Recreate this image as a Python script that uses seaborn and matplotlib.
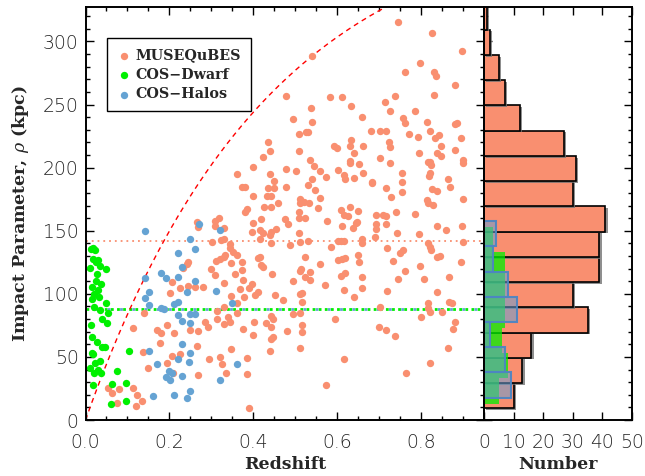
import numpy as np
import pandas as pd
import matplotlib
matplotlib.use("Agg")
import matplotlib.pyplot as plt
import matplotlib.patheffects as pe
from matplotlib.ticker import MultipleLocator, FormatStrFormatter
import seaborn as sns

# ---------------------------------------------------------------------------
# Galaxy samples: (redshift, impact parameter in kpc)
# ---------------------------------------------------------------------------
muse_points = [
    (0.746, 315.7), (0.826, 306.5), (0.898, 292.5), (0.539, 288.8), (0.798, 282.7),
    (0.761, 275.6), (0.831, 276.1), (0.836, 272.7), (0.882, 265.5), (0.830, 257.9),
    (0.477, 257.1), (0.737, 257.1), (0.582, 256.3), (0.611, 256.3), (0.715, 251.8),
    (0.632, 248.5), (0.538, 247.0), (0.727, 245.2), (0.785, 245.2), (0.659, 240.4),
    (0.756, 239.1), (0.495, 238.6), (0.539, 236.2), (0.814, 236.2), (0.762, 235.1),
    (0.880, 234.6), (0.886, 235.6), (0.681, 229.0), (0.701, 229.0), (0.717, 229.0),
    (0.821, 229.0), (0.525, 228.5), (0.531, 228.5), (0.508, 227.0), (0.771, 227.0),
    (0.843, 226.2), (0.793, 224.3), (0.833, 223.8), (0.894, 223.3), (0.633, 221.7),
    (0.435, 220.1), (0.723, 220.1), (0.593, 217.4), (0.631, 217.4), (0.662, 217.4),
    (0.847, 216.9), (0.725, 216.4), (0.600, 215.3), (0.882, 213.7), (0.439, 213.5),
    (0.509, 213.0), (0.639, 211.6), (0.795, 211.6), (0.837, 211.6), (0.848, 209.0),
    (0.423, 208.5), (0.703, 207.4), (0.899, 206.1), (0.535, 205.8), (0.630, 205.3),
    (0.816, 204.8), (0.821, 204.8), (0.900, 204.0), (0.725, 203.7), (0.631, 203.4),
    (0.651, 202.7), (0.824, 202.1), (0.545, 201.6), (0.399, 200.8), (0.478, 198.7),
    (0.601, 197.9), (0.559, 197.6), (0.501, 197.1), (0.754, 195.8), (0.662, 195.5),
    (0.821, 195.5), (0.439, 195.3), (0.361, 194.7), (0.616, 194.5), (0.820, 193.7),
    (0.574, 192.6), (0.640, 192.1), (0.865, 191.3), (0.539, 190.8), (0.618, 190.8),
    (0.754, 189.0), (0.450, 189.2), (0.683, 188.4),
    (0.309, 158.0), (0.309, 153.7), (0.329, 152.4), (0.301, 141.3), (0.323, 142.6),
    (0.329, 143.2), (0.344, 139.5), (0.344, 136.0), (0.310, 126.0), (0.320, 127.6),
    (0.330, 129.4), (0.333, 130.8), (0.346, 124.7), (0.309, 114.9), (0.329, 108.3),
    (0.281, 105.7), (0.346, 98.3), (0.313, 86.4), (0.329, 89.5), (0.314, 79.8),
    (0.340, 81.9), (0.344, 77.9), (0.329, 76.1), (0.285, 77.4), (0.292, 73.9),
    (0.295, 48.3), (0.320, 49.6), (0.326, 44.4), (0.346, 56.3), (0.334, 37.0),
    (0.372, 184.4), (0.380, 184.4), (0.399, 177.8), (0.384, 167.0), (0.381, 164.6),
    (0.399, 156.4), (0.419, 159.0), (0.396, 149.2), (0.415, 150.6), (0.423, 148.5),
    (0.415, 143.2), (0.441, 140.0), (0.362, 130.8), (0.374, 125.5), (0.417, 128.9),
    (0.419, 122.8), (0.423, 121.0), (0.411, 128.1), (0.356, 115.4), (0.372, 118.9),
    (0.376, 110.9), (0.368, 103.5), (0.397, 107.8), (0.390, 104.9), (0.411, 101.7),
    (0.403, 99.1), (0.378, 97.2), (0.362, 92.4), (0.402, 77.7), (0.376, 71.8),
    (0.399, 67.3), (0.384, 49.0), (0.385, 36.2), (0.390, 9.3),
    (0.435, 183.6), (0.449, 183.6), (0.433, 177.5), (0.441, 177.5), (0.425, 169.0),
    (0.443, 169.0), (0.458, 172.2), (0.479, 184.4), (0.476, 159.0), (0.483, 155.1),
    (0.442, 148.7), (0.439, 146.6), (0.487, 138.7), (0.445, 115.7), (0.451, 99.1),
    (0.443, 82.4), (0.446, 79.8), (0.431, 77.1), (0.442, 73.9), (0.447, 66.0),
    (0.443, 63.9), (0.439, 54.9), (0.495, 110.4), (0.511, 141.3), (0.508, 147.9),
    (0.495, 84.0), (0.531, 186.2), (0.548, 182.3), (0.558, 175.7), (0.511, 174.9),
    (0.511, 172.2), (0.520, 172.5), (0.532, 171.7), (0.554, 168.0), (0.510, 164.8),
    (0.508, 159.8), (0.523, 159.8), (0.531, 142.1), (0.523, 129.4), (0.513, 119.4),
    (0.511, 118.3), (0.536, 117.5), (0.523, 113.1), (0.535, 110.9), (0.511, 99.9),
    (0.515, 100.4), (0.516, 93.8), (0.511, 84.5), (0.516, 75.3), (0.515, 69.5),
    (0.511, 56.8), (0.573, 27.7), (0.571, 106.7),
    (0.610, 166.4), (0.616, 162.5), (0.626, 161.7), (0.630, 169.1), (0.650, 165.6),
    (0.646, 156.4), (0.648, 157.2), (0.638, 152.4), (0.612, 153.7), (0.602, 142.1),
    (0.610, 142.1), (0.616, 142.1), (0.602, 126.8), (0.612, 127.8), (0.618, 128.6),
    (0.650, 130.8), (0.652, 125.5), (0.610, 114.1), (0.618, 116.8), (0.659, 113.6),
    (0.639, 97.7), (0.616, 103.0), (0.616, 48.1), (0.660, 143.2), (0.660, 140.0),
    (0.693, 162.5), (0.708, 162.5), (0.717, 161.7), (0.692, 155.3), (0.692, 151.1),
    (0.717, 155.6), (0.739, 164.6), (0.717, 183.6), (0.729, 177.0), (0.719, 136.3),
    (0.732, 126.3), (0.701, 89.8), (0.718, 102.2), (0.717, 71.6), (0.738, 66.3),
    (0.682, 188.1), (0.755, 181.0), (0.743, 148.5), (0.758, 134.7), (0.750, 132.6),
    (0.761, 118.1), (0.796, 147.4), (0.797, 122.0), (0.806, 111.5), (0.815, 174.3),
    (0.817, 171.7), (0.828, 170.4), (0.817, 140.5), (0.821, 137.4), (0.823, 134.7),
    (0.838, 129.4), (0.837, 154.0), (0.799, 81.9), (0.817, 92.9), (0.817, 88.5),
    (0.821, 85.8), (0.821, 45.4), (0.763, 37.5), (0.826, 182.8), (0.837, 181.7),
    (0.870, 184.4), (0.899, 174.9), (0.897, 154.0), (0.896, 125.2), (0.866, 113.1),
    (0.837, 101.4), (0.866, 93.8), (0.873, 92.4), (0.880, 77.9), (0.875, 71.8),
    (0.864, 56.8), (0.844, 130.0),
    (0.265, 157.2), (0.269, 152.7), (0.245, 125.5), (0.241, 123.7), (0.233, 120.2),
    (0.205, 109.7), (0.225, 104.4), (0.201, 100.4), (0.245, 106.2), (0.261, 105.2),
    (0.112, 73.2), (0.139, 84.6), (0.171, 71.4), (0.181, 68.7), (0.195, 75.3),
    (0.211, 68.7), (0.177, 61.3), (0.249, 71.4), (0.269, 70.8), (0.266, 58.9),
    (0.136, 53.9), (0.205, 50.8), (0.225, 52.3), (0.150, 41.2), (0.195, 45.5),
    (0.209, 37.0), (0.269, 35.7), (0.053, 25.1), (0.062, 21.2), (0.080, 24.3),
    (0.112, 25.1), (0.122, 19.8), (0.134, 15.1), (0.074, 13.2), (0.120, 11.1),
    (0.318, 160.5), (0.455, 151.0), (0.575, 158.0), (0.785, 163.0), (0.860, 150.5),
    (0.352, 133.0), (0.585, 137.0), (0.690, 145.0), (0.900, 141.0),
    (0.300, 120.0), (0.560, 124.0), (0.745, 112.0),
    (0.470, 95.0), (0.660, 105.0),
    (0.360, 85.0), (0.480, 70.5), (0.595, 80.0), (0.700, 74.0), (0.850, 86.0),
]

dwarf_points = [
    (0.013, 135.3), (0.023, 134.7), (0.029, 126.8), (0.024, 125.2), (0.011, 120.2),
    (0.048, 119.7), (0.027, 115.7), (0.015, 105.2), (0.029, 103.0), (0.015, 95.7),
    (0.033, 97.7), (0.050, 92.5), (0.020, 89.8), (0.035, 87.2), (0.054, 84.6),
    (0.052, 77.1), (0.015, 66.0), (0.040, 58.1), (0.046, 58.1), (0.015, 53.3),
    (0.019, 52.3), (0.035, 47.0), (0.104, 54.9), (0.011, 41.0), (0.020, 37.0),
    (0.036, 37.0), (0.074, 38.8), (0.062, 28.3), (0.096, 29.1), (0.060, 13.0),
    (0.096, 14.8), (0.018, 28.0), (0.022, 45.0), (0.030, 40.0), (0.028, 62.0),
    (0.040, 80.0), (0.012, 75.0), (0.020, 100.0), (0.038, 108.0), (0.025, 110.0),
    (0.035, 122.0), (0.018, 128.0), (0.018, 136.0),
]

halos_points = [
    (0.141, 149.8), (0.270, 155.0), (0.250, 143.5), (0.261, 135.6), (0.220, 132.6),
    (0.142, 112.8), (0.180, 116.8), (0.191, 112.3), (0.220, 113.6), (0.231, 121.6),
    (0.261, 110.5), (0.151, 101.7), (0.142, 96.5), (0.151, 91.2), (0.180, 88.5),
    (0.188, 88.0), (0.212, 92.0), (0.221, 93.8), (0.241, 101.7), (0.220, 83.3),
    (0.231, 78.8), (0.250, 83.8), (0.261, 83.8), (0.250, 77.2), (0.231, 60.3),
    (0.250, 52.9), (0.246, 45.7), (0.151, 55.0), (0.171, 44.1), (0.199, 38.9),
    (0.191, 34.4), (0.205, 37.5), (0.201, 31.7), (0.231, 35.2), (0.162, 19.1),
    (0.211, 19.8), (0.250, 23.0), (0.241, 17.7), (0.320, 150.6), (0.310, 102.5),
    (0.350, 92.4), (0.360, 44.1), (0.320, 32.0), (0.220, 48.0),
]

# Impact-parameter histograms (20 kpc bins, counted upward from each start value)
bin_width = 20.0
muse_bin_start = 9.3
muse_counts = [10, 13, 16, 35, 30, 39, 39, 41, 30, 31, 27, 12, 7, 5, 2, 1]
dwarf_bin_start = 13.0
dwarf_counts = [5, 8, 6, 7, 7, 7, 3]
halos_bin_start = 17.7
halos_counts = [9, 7, 2, 11, 8, 3, 4]

# Reference levels (kpc) of each sample
rho_level_muse = 141.5
rho_level_dwarf = 88.2
rho_level_halos = 88.2

# Field-of-view limit: fixed angular radius projected with flat LCDM
fov_arcsec = 45.4
H0, Om = 70.0, 0.3

labels = ["MUSEQuBES", "COS\u2212Dwarf", "COS\u2212Halos"]
c_muse = "#F98F70"
c_dwarf = "#00F000"
c_halos = "#65A3D3"

# ---------------------------------------------------------------------------
sns.set_theme(style="ticks")
plt.rcParams["font.family"] = ["DejaVu Sans"]
plt.rcParams["font.weight"] = "light"
plt.rcParams["mathtext.fontset"] = "dejavuserif"
plt.rcParams["axes.linewidth"] = 1.4
plt.rcParams["axes.edgecolor"] = "black"

fig = plt.figure(figsize=(6.45, 4.76), dpi=100)
ax = fig.add_axes([0.1326, 0.1176, 0.6178, 0.8676])
axh = fig.add_axes([0.7504, 0.1176, 0.2295, 0.8676])

ylim = (0, 327.3)


def to_frame(points):
    return pd.DataFrame(points, columns=["z", "rho"])


df_m = to_frame(muse_points)
df_d = to_frame(dwarf_points)
df_h = to_frame(halos_points)

# reference levels
ax.axhline(rho_level_muse, color=c_muse, lw=1.3, ls=(0, (1.0, 2.2)), zorder=1)
ax.axhline(rho_level_dwarf, color=c_dwarf, lw=2.0, ls=(0, (1.0, 1.2)), zorder=1)
ax.axhline(rho_level_halos, color=c_halos, lw=2.0, ls=(1.1, (1.0, 3.4)), zorder=1.1)

# angular-size curve
zg = np.linspace(0.0, 0.95, 2001)
Ez = np.sqrt(Om * (1 + zg) ** 3 + 1 - Om)
dc = np.concatenate([[0.0], np.cumsum(0.5 * (1 / Ez[1:] + 1 / Ez[:-1]) * np.diff(zg))])
dc *= 299792.458 / H0
da_kpc = dc / (1 + zg) * 1000.0
rho_fov = da_kpc * fov_arcsec / 206264.806
ax.plot(zg, rho_fov, color="red", lw=1.0, dashes=(3.6, 3.0), zorder=1.2)

kw = dict(x="z", y="rho", s=28, linewidth=0, ax=ax, zorder=3)
sns.scatterplot(data=df_m, color=c_muse, label=labels[0], **kw)
sns.scatterplot(data=df_d, color=c_dwarf, label=labels[1], **kw)
sns.scatterplot(data=df_h, color=c_halos, label=labels[2], **kw)

ax.set_xlim(0, 0.95)
ax.set_ylim(*ylim)
ax.xaxis.set_major_locator(MultipleLocator(0.2))
ax.xaxis.set_minor_locator(MultipleLocator(0.05))
ax.yaxis.set_major_locator(MultipleLocator(50))
ax.yaxis.set_minor_locator(MultipleLocator(10))
ax.xaxis.set_major_formatter(FormatStrFormatter("%.1f"))

serif_bold = dict(family="DejaVu Serif", weight="bold", size=12.5)
ax.set_xlabel("Redshift", fontdict=serif_bold)
ax.set_ylabel("Impact Parameter, $\\rho$ (kpc)", fontdict=serif_bold)
ax.xaxis.set_label_coords(0.5, -0.087)
ax.yaxis.set_label_coords(-0.137, 0.5)

leg = ax.legend(loc="upper left", bbox_to_anchor=(0.053, 0.924), borderaxespad=0,
                frameon=True, fancybox=False, edgecolor="black", framealpha=1,
                prop=dict(family="DejaVu Serif", weight="bold", size=10.3),
                handletextpad=0.3, labelspacing=0.38, borderpad=0.7,
                handlelength=1.0, markerscale=1.0)
leg.get_frame().set_linewidth(1.0)
leg.set_zorder(5)


# ---------------------------------------------------------------------------
# side histograms
def draw_hist(start, counts, **style):
    counts = np.asarray(counts, dtype=float)
    nb = len(counts)
    centers = start + bin_width * (np.arange(nb) + 0.5)
    table = pd.DataFrame({"rho": centers, "n": counts})
    n0 = len(axh.patches)
    sns.histplot(data=table, y="rho", weights="n", binwidth=bin_width,
                 binrange=(start, start + bin_width * nb), ax=axh, **style)
    return axh.patches[n0:]


bars = draw_hist(muse_bin_start, muse_counts, color=c_muse, alpha=1.0,
                 edgecolor="black", linewidth=1.2)
for p in bars:
    p.set_path_effects([pe.SimplePatchShadow(offset=(1.6, -1.2), shadow_rgbFace="0.45",
                                             alpha=0.8), pe.Normal()])
draw_hist(dwarf_bin_start, dwarf_counts, color=c_dwarf, alpha=0.75,
          edgecolor="none", linewidth=0)
halo_bars = draw_hist(halos_bin_start, halos_counts, color=c_halos, alpha=0.6,
                      edgecolor=c_halos, linewidth=1.5)
for p in halo_bars:
    p.set_facecolor((0.40, 0.62, 0.83, 0.55))
    p.set_edgecolor((0.30, 0.52, 0.76, 0.95))

axh.set_xlim(0, 50)
axh.set_ylim(*ylim)
axh.xaxis.set_major_locator(MultipleLocator(10))
axh.yaxis.set_major_locator(MultipleLocator(50))
axh.yaxis.set_minor_locator(MultipleLocator(10))
axh.set_yticklabels([])
axh.set_ylabel("")
axh.set_xlabel("Number", fontdict=serif_bold)
axh.xaxis.set_label_coords(0.5, -0.087)

for a in (ax, axh):
    a.tick_params(which="both", direction="in", top=True, right=True, bottom=True,
                  left=True, color="black")
    a.tick_params(which="major", length=5.8, width=1.0)
    a.tick_params(which="minor", length=2.9, width=1.0)
    a.tick_params(axis="x", which="major", pad=9, labelsize=13.5)
    a.tick_params(axis="y", which="major", pad=5, labelsize=13.5)
    for s in a.spines.values():
        s.set_linewidth(1.4)
        s.set_color("black")
        s.set_zorder(6)

fig.savefig("out.png", dpi=100)
